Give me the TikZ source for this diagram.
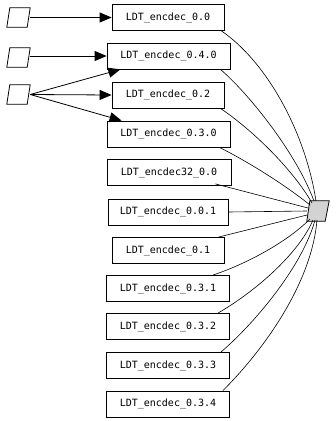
\documentclass[tikz,border=0pt]{standalone}
\usepackage{fontspec}
\setmonofont{DejaVu Sans Mono}
\usetikzlibrary{arrows.meta,calc}
\definecolor{sinkgray}{RGB}{211,211,211}
\begin{document}
\begin{tikzpicture}[x=1pt,y=-1pt,
  box/.style={draw, line width=0.8pt, rectangle, minimum height=26pt, inner sep=0pt,
    font=\ttfamily\fontsize{10}{12}\selectfont},
  narrow/.style={box, minimum width=112pt},
  wide/.style={box, minimum width=123pt},
  para/.style={rectangle, minimum width=23pt, minimum height=19pt, inner sep=0pt},
  sink/.style={rectangle, minimum width=22pt, minimum height=20pt, inner sep=0pt},
  pline/.style={line width=0.8pt},
  arr/.style={line width=0.8pt, -{Triangle[length=12pt,width=10pt]}},
  ln/.style={line width=0.6pt}
]
\useasboundingbox (0,0) rectangle (336,421);
% source nodes
\node[para] (p1) at (18.5,17.5) {};
\node[para] (p2) at (18.5,57.5) {};
\node[para] (p3) at (18.5,94.5) {};
\foreach \p in {p1,p2,p3}{
  \draw[pline] (\p.south west) -- ($(\p.north west)+(3,0)$) -- (\p.north east) -- ($(\p.south east)+(-3,0)$) -- cycle;
}
% boxes
\node[narrow] (b00)  at (168,17.5) {LDT\_encdec\_0.0};
\node[wide]   (b040) at (168.5,56) {LDT\_encdec\_0.4.0};
\node[narrow] (b02)  at (168,95) {LDT\_encdec\_0.2};
\node[wide]   (b030) at (168.5,134) {LDT\_encdec\_0.3.0};
\node[box, minimum width=124pt] (b32) at (169,172.5) {LDT\_encdec32\_0.0};
\node[box, minimum width=120pt] (b001) at (168,212) {LDT\_encdec\_0.0.1};
\node[narrow] (b01)  at (168,250.5) {LDT\_encdec\_0.1};
\node[wide]   (b031) at (168,288.5) {LDT\_encdec\_0.3.1};
\node[wide]   (b032) at (168,326.5) {LDT\_encdec\_0.3.2};
\node[wide]   (b033) at (168,365.5) {LDT\_encdec\_0.3.3};
\node[wide]   (b034) at (168,404) {LDT\_encdec\_0.3.4};
% sink
\node[sink] (t) at (318,211) {};
\draw[pline, fill=sinkgray] ($(t.south west)$) -- ($(t.north west)+(3,0)$) -- (t.north east) -- ($(t.south east)+(-4,0)$) -- cycle;
% arrows
\draw[arr] (p1.east) -- (b00.west);
\draw[arr] (p2.east |- b040.west) -- (b040.west);
\draw[arr] (p3.east) -- (b040);
\draw[arr] (p3.east) -- (b02.west);
\draw[arr] (p3.east) -- (b030);
% edges to sink
\draw[ln] ($(b00.south east)+(-3,0)$) .. controls +(44,30) and +(-11,-71) .. ($(t)+(-2,-10)$);
\draw[ln] ($(b040.south east)+(-10,0)$) .. controls +(25,21) and +(-19,-51) .. ($(t)+(-4,-10)$);
\draw[ln] ($(b02.south east)+(-4,0)$) .. controls +(30,20) and +(-20,-35) .. ($(t)+(-6,-8)$);
\draw[ln] ($(b030.south east)+(-11,0)$) .. controls +(30,15) and +(-25,-20) .. ($(t)+(-8,-6)$);
\draw[ln] ($(b32.south east)+(-16,-2)$) -- ($(t)+(-10,-3)$);
\draw[ln] (b001.east) -- (t.west);
\draw[ln] ($(b01.north east)+(-6,0)$) -- ($(t)+(-11,4)$);
\draw[ln] ($(b031.north east)+(-17,0)$) .. controls +(30,-10) and +(-25,25) .. ($(t)+(-8,8)$);
\draw[ln] ($(b032.north east)+(-12,0)$) .. controls +(35,-20) and +(-15,35) .. ($(t)+(-5,9)$);
\draw[ln] ($(b033.north east)+(-9,0)$) .. controls +(35,-30) and +(-12,45) .. ($(t)+(-3,9)$);
\draw[ln] ($(b034.north east)+(-7,0)$) .. controls +(45,-45) and +(-5,60) .. ($(t)+(-1,9)$);
\end{tikzpicture}
\end{document}
